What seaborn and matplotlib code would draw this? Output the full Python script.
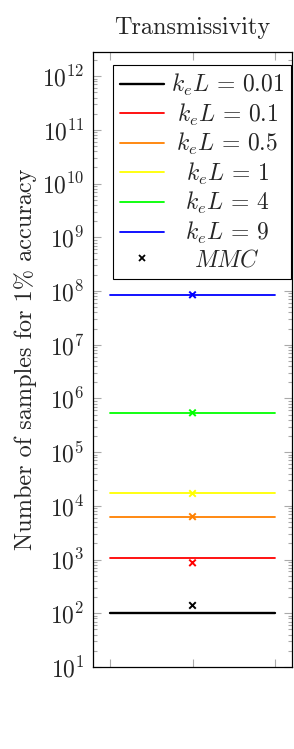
import numpy as np
import pandas as pd
import seaborn as sns
import matplotlib.pyplot as plt
from matplotlib.lines import Line2D
from matplotlib.ticker import LogLocator, NullFormatter

# values
series = ["0.01", "0.1", "0.5", "1", "4", "9"]
colors = ["black", "red", "#ff8000", "#ffff00", "#00ff00", "blue"]
ref_samples = [100, 1050, 6300, 17000, 540000, 8.5e7]
mmc_samples = [140, 870, 6300, 17000, 540000, 8.5e7]
x_span = [0.0, 1.0]
x_mmc = 0.5

sns.set_theme(style="ticks")
plt.rcParams["font.family"] = "serif"
plt.rcParams["font.serif"] = ["cmr10", "DejaVu Serif"]
plt.rcParams["mathtext.fontset"] = "cm"
plt.rcParams["axes.formatter.use_mathtext"] = True

labels = [rf"$k_eL\,=\,{s}$" for s in series]
lines_df = pd.DataFrame({
    "x": np.tile(x_span, len(series)),
    "n": np.repeat(ref_samples, 2),
    "case": np.repeat(labels, 2),
})
mmc_df = pd.DataFrame({"x": [x_mmc] * len(series), "n": mmc_samples, "case": labels})
palette = dict(zip(labels, colors))

fig = plt.figure(figsize=(2.94, 7.49), dpi=100)
ax = fig.add_axes([93 / 294, 82 / 749, 199 / 294, 615 / 749])

sns.lineplot(data=lines_df, x="x", y="n", hue="case", palette=palette,
             linewidth=1.3, legend=False, ax=ax)
for ln, c in zip(ax.get_lines(), colors):
    if c == "black":
        ln.set_linewidth(1.7)
sns.scatterplot(data=mmc_df, x="x", y="n", hue="case", palette=palette,
                marker="x", s=22, linewidth=1.4, legend=False, ax=ax)

ax.set_yscale("log")
ax.set_ylim(10, 10 ** 12.45)
ax.set_xlim(-0.1, 1.1)
ax.set_xticks([0, 0.5, 1])
ax.set_xticklabels([])
ax.set_xlabel("")
ax.yaxis.set_major_locator(LogLocator(base=10, numticks=20))
ax.yaxis.set_minor_locator(LogLocator(base=10, subs=np.arange(2, 10), numticks=20))
ax.yaxis.set_minor_formatter(NullFormatter())
ax.tick_params(which="both", direction="in", left=True, right=True, top=True,
               bottom=True, color="#aaaaaa", width=0.8, labelsize=17, pad=6)
ax.tick_params(which="major", length=6)
ax.tick_params(which="minor", length=3)
for sp in ax.spines.values():
    sp.set_color("black")
    sp.set_linewidth(0.9)

ax.set_ylabel(r"Number of samples for 1% accuracy", fontsize=17.5)
ax.set_title("Transmissivity", fontsize=17.5, pad=13)

handles = [Line2D([], [], color=c, lw=1.7 if c == "black" else 1.3) for c in colors]
handles.append(Line2D([], [], color="black", marker="x", ls="none", ms=5, mew=1.3))
leg = ax.legend(handles, labels + [r"$MMC$"], loc="upper right",
                bbox_to_anchor=(0.995, 0.979), borderaxespad=0, fontsize=17,
                frameon=True, fancybox=False, framealpha=1, edgecolor="black",
                handlelength=1.85, handletextpad=0.3, labelspacing=0.15,
                borderpad=0.3)
leg.get_frame().set_linewidth(0.8)

# centre the legend texts inside their column, pgfplots style
fig.canvas.draw()
r = fig.canvas.get_renderer()
widths = [t.get_window_extent(r).width for t in leg.get_texts()]
wmax = max(widths)
rows = leg._legend_handle_box.get_children()[0].get_children()
for row, w in zip(rows, widths):
    row.sep = row.sep + (wmax - w) / 2 * 72 / fig.dpi

fig.savefig("out.png", dpi=100)
